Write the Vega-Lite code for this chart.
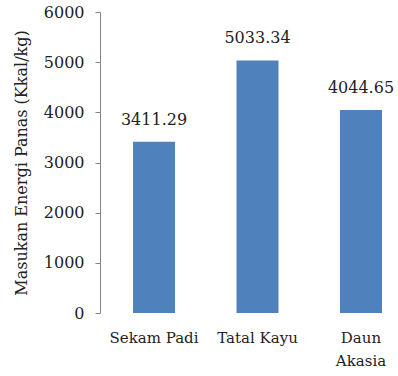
{
  "$schema": "https://vega.github.io/schema/vega-lite/v6.json",
  "width": 298,
  "height": 301,
  "autosize": {"type": "none"},
  "padding": {"left": 100, "top": 12, "right": 0, "bottom": 63},
  "background": "white",
  "config": {
    "view": {"stroke": null},
    "font": "DejaVu Serif",
    "axis": {"grid": false, "labelColor": "#222222", "titleColor": "#222222", "labelFont": "DejaVu Serif", "titleFont": "DejaVu Serif"}
  },
  "data": {
    "values": [
      {"bahan": "Sekam Padi", "nilai": 3411.29, "label": "3411.29"},
      {"bahan": "Tatal Kayu", "nilai": 5033.34, "label": "5033.34"},
      {"bahan": "Daun Akasia", "nilai": 4044.65, "label": "4044.65"}
    ]
  },
  "encoding": {
    "x": {
      "field": "bahan",
      "type": "nominal",
      "sort": null,
      "scale": {"range": [0, 315], "paddingInner": 0.594, "paddingOuter": 0.319},
      "axis": {
        "title": null,
        "labelAngle": 0,
        "domain": false,
        "ticks": false,
        "labelPadding": 17,
        "labelFontSize": 15,
        "labelLineHeight": 23,
        "labelOverlap": false,
        "labelLimit": 0,
        "labelExpr": "datum.label == 'Daun Akasia' ? ['Daun', 'Akasia'] : datum.label"
      }
    },
    "y": {
      "field": "nilai",
      "type": "quantitative",
      "scale": {"domain": [0, 6000], "nice": false},
      "axis": {
        "title": "Masukan Energi Panas (Kkal/kg)",
        "values": [0, 1000, 2000, 3000, 4000, 5000, 6000],
        "format": "d",
        "domainColor": "#868686",
        "tickColor": "#868686",
        "tickSize": 5,
        "labelPadding": 11,
        "labelFontSize": 16,
        "titleFontSize": 16,
        "titleFontWeight": "normal",
        "titlePadding": 14
      }
    }
  },
  "layer": [
    {"mark": {"type": "bar", "color": "#4F81BD"}},
    {
      "mark": {"type": "text", "baseline": "bottom", "dy": -14, "fontSize": 16, "color": "#222222"},
      "encoding": {"text": {"field": "label"}}
    }
  ]
}
